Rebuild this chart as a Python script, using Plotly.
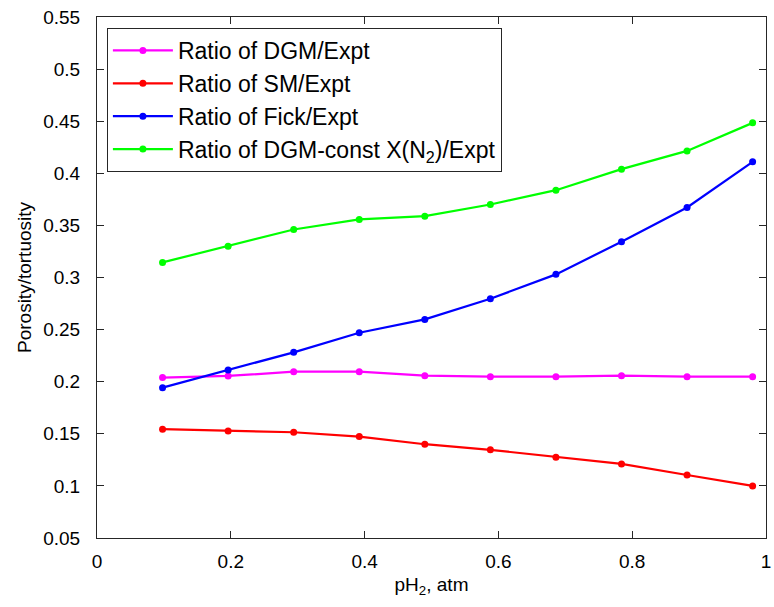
import plotly.graph_objects as go

# Data
ph2 = [0.098, 0.196, 0.294, 0.392, 0.49, 0.588, 0.686, 0.784, 0.882, 0.98]
ratio_dgm = [0.204, 0.2055, 0.2096, 0.2096, 0.2058, 0.2048, 0.2048, 0.2058, 0.2048, 0.2048]
ratio_sm = [0.1544, 0.1527, 0.1515, 0.1473, 0.140, 0.1346, 0.1275, 0.1211, 0.1105, 0.100]
ratio_fick = [0.1943, 0.2112, 0.2282, 0.247, 0.2598, 0.2796, 0.303, 0.3343, 0.3672, 0.411]
ratio_dgm_const = [0.3145, 0.330, 0.3461, 0.3557, 0.3589, 0.3701, 0.3838, 0.404, 0.4215, 0.4484]

series_names = [
    "Ratio of DGM/Expt",
    "Ratio of SM/Expt",
    "Ratio of Fick/Expt",
    "Ratio of DGM-const X(N<sub>2</sub>)/Expt",
]
series_values = [ratio_dgm, ratio_sm, ratio_fick, ratio_dgm_const]
series_colors = ["#FF00FF", "#FF0000", "#0000FF", "#00FF00"]

x_ticks = [0, 0.2, 0.4, 0.6, 0.8, 1]
y_ticks = [0.05, 0.1, 0.15, 0.2, 0.25, 0.3, 0.35, 0.4, 0.45, 0.5, 0.55]

FONT = "Liberation Sans, Arial, sans-serif"

fig = go.Figure()
for name, vals, col in zip(series_names, series_values, series_colors):
    fig.add_trace(go.Scatter(
        x=ph2, y=vals, name=name, mode="lines+markers",
        line=dict(color=col, width=2.2),
        marker=dict(color=col, size=7),
    ))

axis_common = dict(
    showline=True, linecolor="#262626", linewidth=1, mirror="ticks",
    ticks="inside", ticklen=7, tickcolor="#262626", tickwidth=1,
    showgrid=False, zeroline=False,
    tickfont=dict(family=FONT, size=19, color="#000000"),
    ticklabeloverflow="allow",
)

fig.update_xaxes(
    range=[0, 1], tickvals=x_ticks, ticktext=[f"{v:g}" for v in x_ticks],
    title=dict(text="pH<sub>2</sub>, atm", font=dict(family=FONT, size=19, color="#000000"), standoff=6),
    ticklabelstandoff=6,
    **axis_common,
)
fig.update_yaxes(
    range=[0.05, 0.55], tickvals=y_ticks, ticktext=[f"{v:g}" for v in y_ticks],
    title=dict(text="Porosity/tortuosity", font=dict(family=FONT, size=19, color="#000000"), standoff=6),
    ticklabelstandoff=12,
    **axis_common,
)

fig.update_layout(
    width=774, height=607,
    margin=dict(l=97, r=3, t=17, b=69),
    paper_bgcolor="white", plot_bgcolor="white",
    showlegend=True,
    legend=dict(
        x=0.0148, y=0.979, xanchor="left", yanchor="top",
        bgcolor="white", bordercolor="#262626", borderwidth=1,
        font=dict(family=FONT, size=23, color="#000000"),
        itemwidth=60, tracegroupgap=0,
    ),
    font=dict(family=FONT),
)

fig.write_html("out.html")
